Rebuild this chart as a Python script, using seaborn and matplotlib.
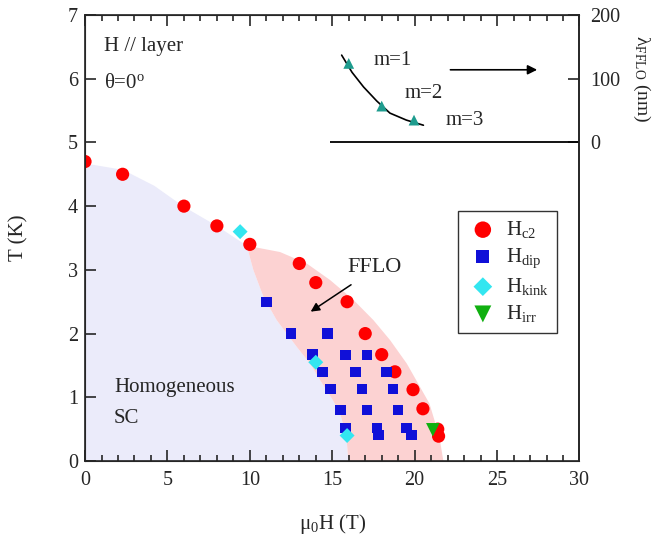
import matplotlib
matplotlib.use("Agg")
import matplotlib.pyplot as plt
import numpy as np
import seaborn as sns

sns.set_style("ticks")
plt.rcParams['font.family'] = ['Liberation Serif', 'DejaVu Serif']
plt.rcParams['mathtext.fontset'] = 'custom'
plt.rcParams['mathtext.rm'] = 'Liberation Serif'
plt.rcParams['mathtext.it'] = 'Liberation Serif:italic'

# data
hc2_H = [0.0, 2.28, 6.0, 8.0, 10.0, 13.0, 14.0, 15.9, 17.0, 18.0, 18.8, 19.9, 20.5, 21.4, 21.45]
hc2_T = [4.70, 4.50, 4.00, 3.69, 3.40, 3.10, 2.80, 2.50, 2.00, 1.67, 1.40, 1.12, 0.82, 0.50, 0.39]

hdip_H = [11.0, 12.5, 14.7, 13.8, 15.8, 17.1, 14.4, 16.4, 18.3, 14.9, 16.8, 18.7,
          15.5, 17.1, 19.0, 15.8, 17.7, 17.8, 19.5, 19.8]
hdip_T = [2.50, 2.00, 2.00, 1.67, 1.66, 1.66, 1.40, 1.40, 1.40, 1.13, 1.13, 1.13,
          0.80, 0.80, 0.80, 0.52, 0.52, 0.41, 0.52, 0.41]

hkink_H = [9.41, 14.0, 15.9]
hkink_T = [3.60, 1.55, 0.40]

hirr_H = [21.1]
hirr_T = [0.49]

# FFLO wavelength inset (right axis, nm)
lam_H = [16.0, 18.0, 19.96]
lam_nm = [124, 57, 35]
lam_fit_H = [15.57, 16.2, 16.9, 17.7, 18.5, 19.5, 20.53]
lam_fit_nm = [137, 110, 87, 65, 46, 35, 27]
lam_labels = ["m=1", "m=2", "m=3"]

# phase region boundaries
sc_top_H = [0.0, 2.3, 4.2, 6.0, 8.0, 9.81]
sc_top_T = [4.67, 4.57, 4.32, 3.99, 3.69, 3.38]
fflo_left_H = [9.81, 10.21, 10.82, 11.63, 12.85, 13.65, 14.26, 15.0, 15.47, 15.85, 15.98]
fflo_left_T = [3.38, 3.00, 2.58, 2.21, 1.79, 1.53, 1.27, 0.97, 0.75, 0.40, 0.0]
fflo_right_H = [21.74, 21.5, 20.9, 20.2, 19.52, 18.5, 17.5, 16.28, 14.87, 13.45, 11.83, 9.81]
fflo_right_T = [0.0, 0.38, 0.90, 1.22, 1.53, 1.90, 2.21, 2.53, 2.84, 3.10, 3.28, 3.38]

fig = plt.figure(figsize=(6.52, 5.45), dpi=100)
ax = fig.add_axes([0.1304, 0.1541, 0.7584, 0.8184])

# shaded regions
ax.fill(sc_top_H + fflo_left_H[1:] + [0.0], sc_top_T + fflo_left_T[1:] + [0.0],
        color='#ebebfa', lw=0, zorder=0)
ax.fill(fflo_left_H + fflo_right_H, fflo_left_T + fflo_right_T,
        color='#fcd2d2', lw=0, zorder=0.5)

sns.scatterplot(x=hc2_H, y=hc2_T, marker='o', color='#ff0000', s=90, edgecolor='none',
                label='H$_{\\mathrm{c2}}$', ax=ax, zorder=3)
sns.scatterplot(x=hdip_H, y=hdip_T, marker='s', color='#1010d8', s=56, edgecolor='none',
                label='H$_{\\mathrm{dip}}$', ax=ax, zorder=4)
sns.scatterplot(x=hkink_H, y=hkink_T, marker='D', color='#33e6f0', s=58, edgecolor='none',
                label='H$_{\\mathrm{kink}}$', ax=ax, zorder=5)
sns.scatterplot(x=hirr_H, y=hirr_T, marker='v', color='#10b010', s=95, edgecolor='none',
                label='H$_{\\mathrm{irr}}$', ax=ax, zorder=6)

ax.set_xlim(0, 30)
ax.set_ylim(0, 7)
ax.set_xticks(range(0, 31, 5))
ax.set_xticks(range(0, 31), minor=True)
ax.set_yticks(range(0, 8))
ax.tick_params(axis='both', which='both', direction='in', top=True, right=False,
               labelsize=14.5, width=1.2)
ax.tick_params(axis='both', which='major', length=8)
ax.tick_params(axis='x', which='minor', length=4.5)
ax.tick_params(axis='x', pad=7)
ax.tick_params(axis='y', pad=5)
for sp in ax.spines.values():
    sp.set_linewidth(1.2)
    sp.set_color('#222222')

ax.set_xlabel('μ$_{\\mathrm{0}}$H (T)', fontsize=15)
ax.set_ylabel('T (K)', fontsize=15)
ax.xaxis.set_label_coords(0.5, -0.115)
ax.yaxis.set_label_coords(-0.115, 0.5)

ax.text(1.17, 6.50, 'H // layer', fontsize=15, va='center', ha='left')
ax.text(1.17, 5.93, 'θ=0$^{\\mathrm{o}}$', fontsize=15, va='center', ha='left')
ax.text(1.76, 1.16, 'Homogeneous', fontsize=15, va='center', ha='left')
ax.text(1.76, 0.67, 'SC', fontsize=15, va='center', ha='left')
ax.text(15.9, 3.03, 'FFLO', fontsize=16, va='center', ha='left')
ax.annotate('', xy=(13.55, 2.32), xytext=(16.28, 2.79),
            arrowprops=dict(arrowstyle='-|>', color='black', lw=1.1, mutation_scale=13))

leg = ax.legend(loc='upper left', bbox_to_anchor=(0.754, 0.561), borderaxespad=0,
                fontsize=15, frameon=True, fancybox=False, labelspacing=0.3,
                handletextpad=0.3, borderpad=0.4, handlelength=1.6, markerscale=1.25)
leg.get_frame().set_edgecolor('black')
leg.get_frame().set_linewidth(1.0)

# right-hand axis for the FFLO wavelength
ax2 = ax.twinx()
ax2.set_ylim(-500, 200)
ax2.set_yticks([0, 100, 200])
ax2.tick_params(axis='y', direction='in', length=8, width=1.2, labelsize=14.5, pad=8)
ax2.spines['right'].set_linewidth(1.2)
ax2.hlines(0, 14.87, 30, color='black', lw=1.3)
sns.lineplot(x=lam_fit_H, y=lam_fit_nm, color='black', lw=1.2, ax=ax2, sort=False)
sns.scatterplot(x=lam_H, y=lam_nm, marker='^', color='#1e9c8e', s=60, edgecolor='none',
                ax=ax2, zorder=5)
for h, v, t in zip([17.5, 19.4, 21.9], [129, 77, 35], lam_labels):
    ax2.text(h, v, t, fontsize=15, va='center', ha='left')
ax2.annotate('', xy=(27.6, 114), xytext=(22.0, 114),
             arrowprops=dict(arrowstyle='-|>', color='black', lw=1.2, mutation_scale=14))
ax2.set_ylabel('λ$_{\\mathrm{FFLO}}$ (nm)', fontsize=14, rotation=270, va='bottom')
ax2.yaxis.set_label_coords(1.105, 0.857)

fig.savefig('out.png', dpi=100)
